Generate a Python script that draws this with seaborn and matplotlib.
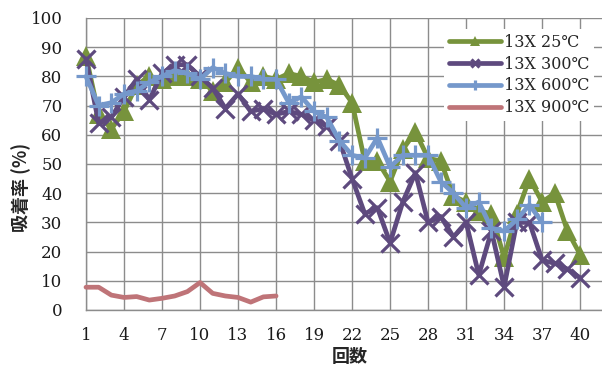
import matplotlib
matplotlib.use("Agg")
import matplotlib.pyplot as plt
import seaborn as sns

# Adsorption rate (%) of 13X zeolite over repeated runs, by treatment temperature
runs = list(range(1, 41))
series_labels = ["13X 25℃", "13X 300℃", "13X 600℃", "13X 900℃"]
rate_25 = [87, 67, 62, 68, 77, 80, 79, 80, 80, 79, 75, 78, 83, 78, 80, 79, 81, 80, 78, 79,
           77, 71, 51, 51, 44, 55, 61, 52, 51, 39, 37, 34, 33, 18, 33, 45, 37, 40, 27, 19]
rate_300 = [86, 64, 66, 73, 79, 72, 81, 84, 84, 80, 76, 69, 74, 68, 69, 67, 68, 67, 65, 63,
            58, 45, 33, 35, 23, 37, 47, 30, 32, 25, 30, 12, 27, 8, 30, 30, 17, 16, 14, 11]
rate_600 = [80, 70, 71, 74, 75, 78, 80, 82, 81, 79, 83, 81, 80, 80, 79, 79, 71, 73, 68, 66,
            58, 53, 52, 59, 49, 53, 53, 53, 44, 40, 35, 37, 28, 27, 31, 36, 30]
rate_900 = [7.8, 7.8, 5.1, 4.3, 4.6, 3.4, 4.0, 4.8, 6.3, 9.4, 5.7, 4.8, 4.3, 2.7, 4.5, 4.8]
x_ticks = [1, 4, 7, 10, 13, 16, 19, 22, 25, 28, 31, 34, 37, 40]
y_ticks = [0, 10, 20, 30, 40, 50, 60, 70, 80, 90, 100]

sns.set_theme(style="white")
plt.rcParams["font.family"] = ["DejaVu Serif", "Noto Sans CJK JP"]

W, H = 602, 376
fig = plt.figure(figsize=(W / 100, H / 100), dpi=100)
ax = fig.add_axes([86 / W, 66 / H, 519.5 / W, 292 / H])

grid_col = "#8c8c8c"
styles = [
    (rate_25, "#77933c", dict(marker="^", markersize=14, markeredgewidth=0)),
    (rate_300, "#5e4a7e", dict(marker="x", markersize=12.5, markeredgewidth=2.3)),
    (rate_600, "#7598cb", dict(marker="+", markersize=15, markeredgewidth=2.3)),
    (rate_900, "#bf7478", dict(marker=None)),
]
for (vals, col, mk), lab in zip(styles, series_labels):
    sns.lineplot(x=runs[:len(vals)], y=vals, ax=ax, color=col, linewidth=3.4,
                 markeredgecolor=col, markerfacecolor=col, label=lab,
                 clip_on=False, zorder=3, **mk)

ax.set_xlim(1, 42)
ax.set_ylim(0, 100)
ax.set_xticks(x_ticks)
ax.set_yticks(y_ticks)
ax.grid(True, color=grid_col, linewidth=1.0)
ax.set_axisbelow(True)
for side in ["top", "right"]:
    ax.spines[side].set_visible(False)
for side in ["left", "bottom"]:
    ax.spines[side].set_color(grid_col)
    ax.spines[side].set_linewidth(1.0)
ax.tick_params(axis="x", length=0, pad=12, labelsize=12, colors="#1a1a1a")
ax.tick_params(axis="y", length=0, pad=17, labelsize=12, colors="#1a1a1a")
ax.set_xlabel("")
ax.set_ylabel("")

leg = ax.legend(loc="upper left", bbox_to_anchor=(444 / W, 1 - 29 / H),
                bbox_transform=fig.transFigure, frameon=True, fancybox=False,
                facecolor="white", edgecolor="none", framealpha=1,
                fontsize=11.5, handlelength=3.3, handletextpad=0.15,
                labelspacing=0.3, borderpad=0.3, borderaxespad=0,
                markerscale=0.5)
leg.set_zorder(5)

fig.text(21 / W, 1 - 187 / H, "吸着率 (%)", rotation=90, ha="center", va="center",
         fontsize=13, fontweight="bold", family=["Noto Sans CJK JP"])
fig.text(350 / W, 1 - 357 / H, "回数", ha="center", va="center",
         fontsize=13, fontweight="bold", family=["Noto Sans CJK JP"])

fig.savefig("out.png", dpi=100, facecolor="white")
